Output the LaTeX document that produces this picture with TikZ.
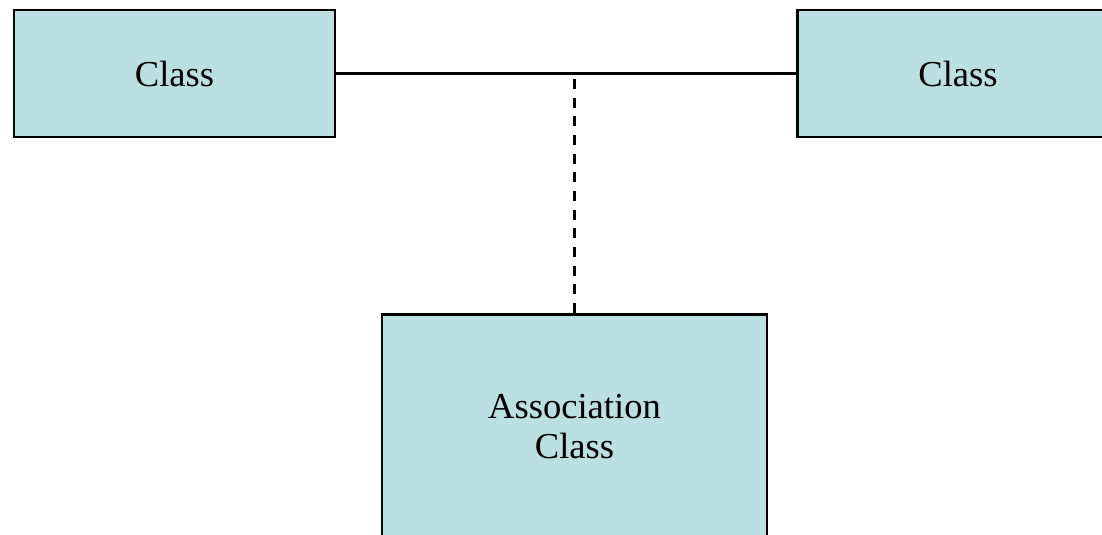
\documentclass[tikz,border=0pt]{standalone}
\usepackage{fontspec}
\setmainfont{Liberation Serif}

\definecolor{classfill}{RGB}{186,224,227}
\tikzset{
  classbox/.style={draw=black, line width=1.8pt, fill=classfill, inner sep=0pt, align=center},
  assocline/.style={line width=1.8pt},
}

\begin{document}
\begin{tikzpicture}[x=0.025cm,y=-0.025cm,every node/.style={font=\fontsize{26}{28.3}\selectfont}]
  \useasboundingbox (0,0) rectangle (1102,534);
  \clip (0,0) rectangle (1102,534);

  % the two classes
  \node[classbox, minimum width=8.025cm, minimum height=3.175cm] (left) at (174.5,73.5) {Class};
  \node[classbox, minimum width=8.025cm, minimum height=3.175cm] (right) at (958,73.5) {Class};

  % association class, runs off the bottom edge
  \node[classbox, anchor=north, minimum width=9.625cm, text height=3.6cm, text depth=3cm] (assoc) at (574.5,313) {Association\\Class};

  % association and its dashed link
  \draw[assocline] (left.east) -- (right.west);
  \draw[assocline, dash pattern=on 0.25cm off 0.2167cm] (assoc.north) -- (assoc.north |- left.east);
\end{tikzpicture}
\end{document}
